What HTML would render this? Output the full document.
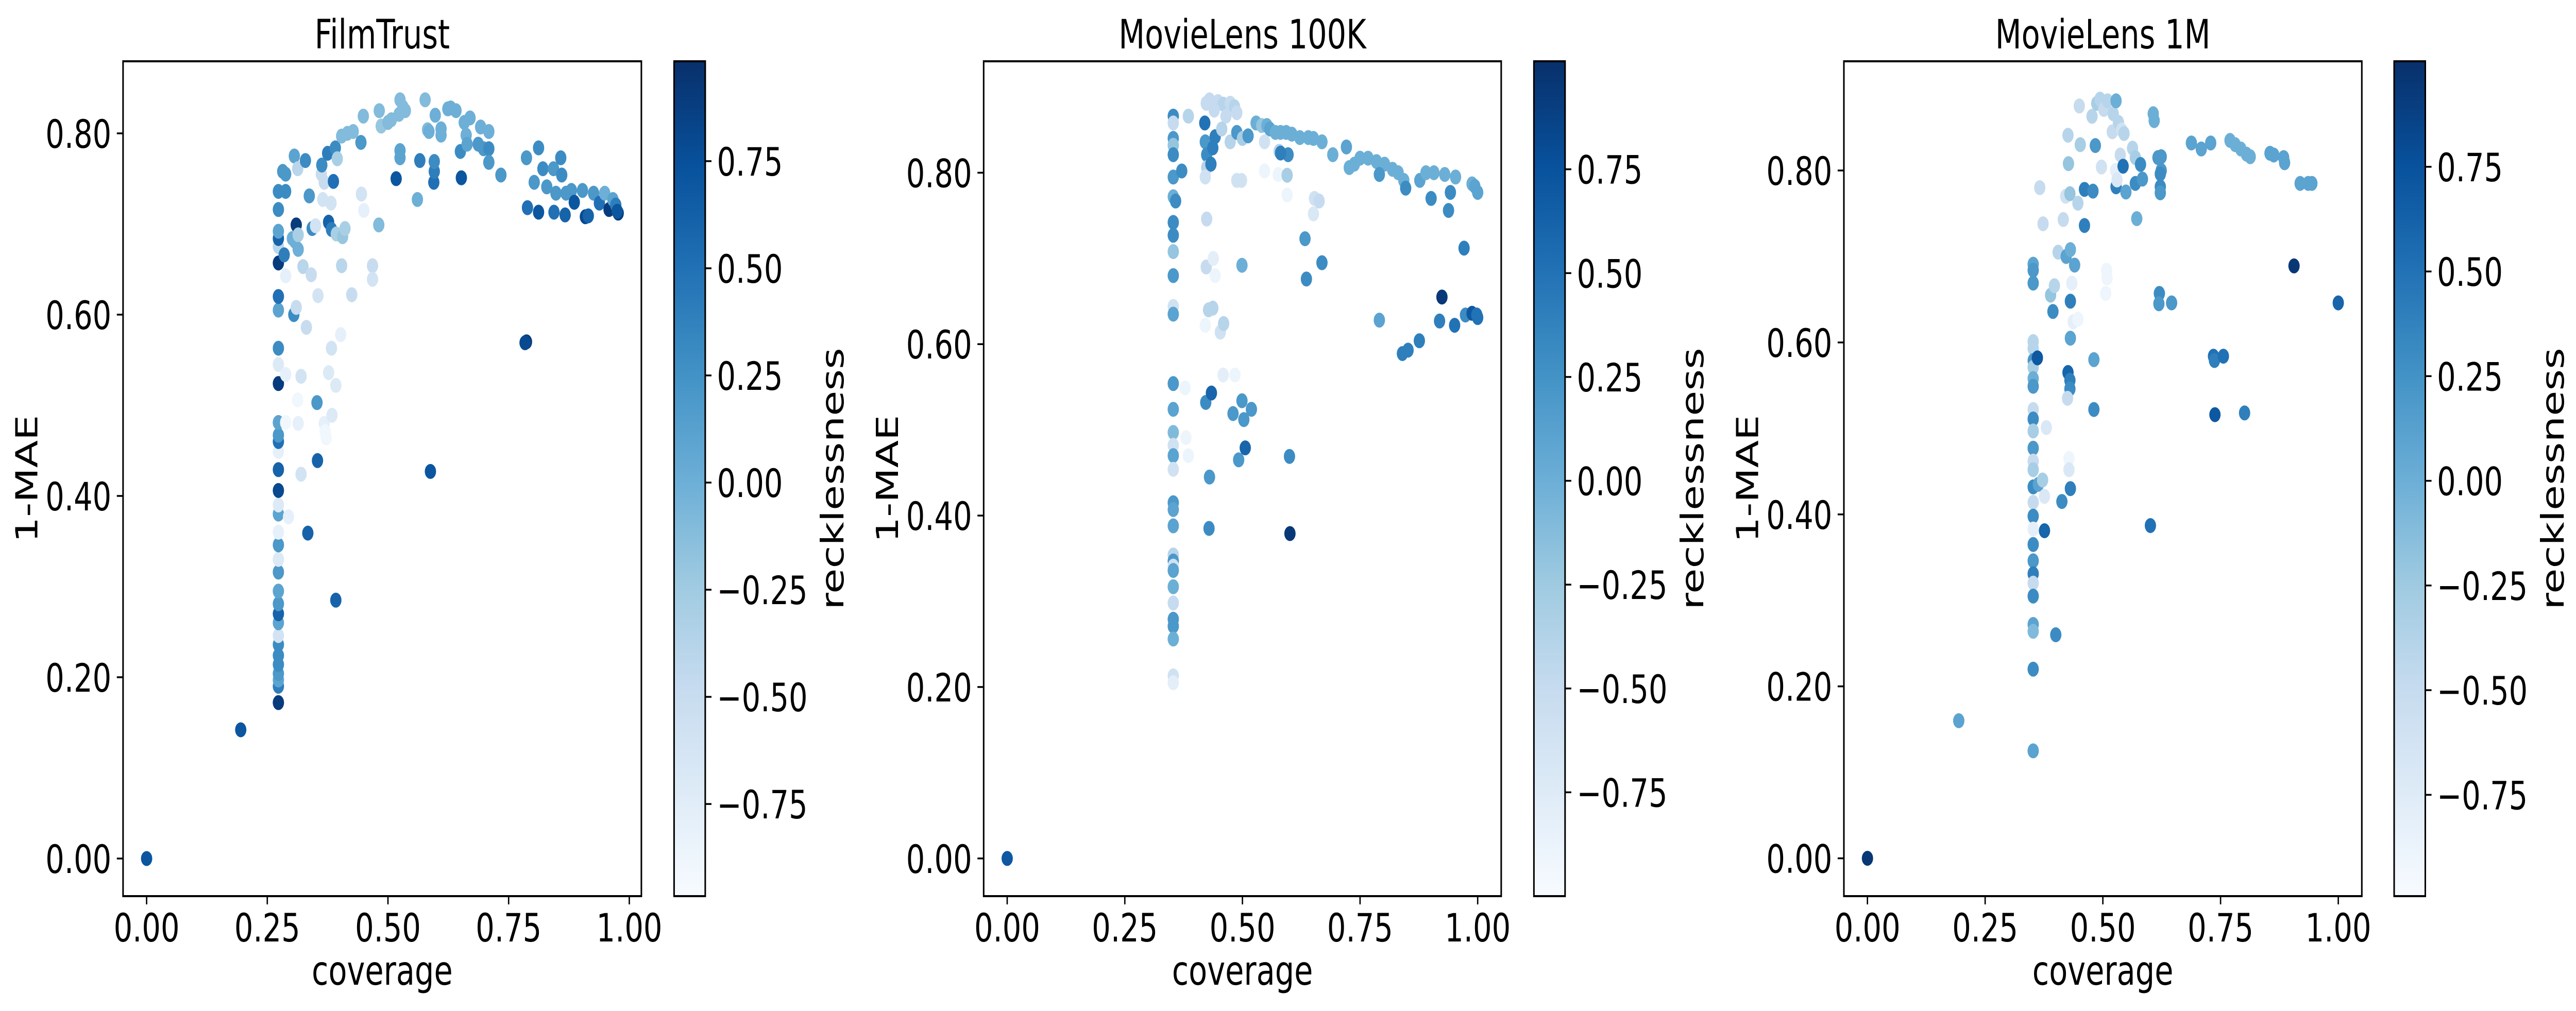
<!DOCTYPE html>
<html><head><meta charset="utf-8"><title>Recklessness scatter</title>
<style>
html,body{margin:0;padding:0;background:#fff;overflow:hidden;width:100%;height:100%;}
svg{display:block;width:100vw;height:100vh;font-family:"DejaVu Sans","Liberation Sans",sans-serif;}
</style></head>
<body>
<svg id="fig" viewBox="0 0 6615 1963" preserveAspectRatio="none" xmlns="http://www.w3.org/2000/svg">
<defs>
<linearGradient id="blues" x1="0" y1="1" x2="0" y2="0">
<stop offset="0" stop-color="#f7fbff"/><stop offset="0.125" stop-color="#deebf7"/><stop offset="0.25" stop-color="#c6dbef"/><stop offset="0.375" stop-color="#9ecae1"/><stop offset="0.5" stop-color="#6baed6"/><stop offset="0.625" stop-color="#4292c6"/><stop offset="0.75" stop-color="#2171b5"/><stop offset="0.875" stop-color="#08519c"/><stop offset="1" stop-color="#08306b"/>
</linearGradient>
</defs>
</svg>
<script>
// ---- data: FilmTrust ----
const ftCoverage=[0,0.195,0.273,0.273,0.273,0.273,0.273,0.273,0.273,0.273,0.273,0.273,0.273,0.273,0.273,0.273,0.273,0.273,0.273,0.273,0.273,0.273,0.273,0.273,0.273,0.273,0.273,0.273,0.273,0.273,0.273,0.273,0.273,0.273,0.273,0.273,0.273,0.288,0.288,0.288,0.294,0.285,0.302,0.307,0.31,0.314,0.314,0.282,0.288,0.306,0.313,0.329,0.288,0.305,0.31,0.324,0.331,0.32,0.313,0.314,0.32,0.334,0.337,0.341,0.343,0.35,0.353,0.355,0.354,0.362,0.363,0.365,0.368,0.368,0.37,0.372,0.375,0.377,0.377,0.382,0.383,0.383,0.384,0.387,0.391,0.392,0.393,0.392,0.395,0.404,0.402,0.404,0.406,0.411,0.416,0.425,0.428,0.444,0.445,0.45,0.449,0.468,0.468,0.481,0.482,0.486,0.5,0.507,0.517,0.523,0.525,0.525,0.525,0.531,0.536,0.561,0.566,0.577,0.582,0.585,0.588,0.595,0.596,0.596,0.598,0.61,0.61,0.624,0.63,0.641,0.65,0.652,0.658,0.662,0.664,0.67,0.687,0.692,0.698,0.709,0.709,0.709,0.734,0.787,0.784,0.787,0.789,0.803,0.812,0.812,0.821,0.829,0.843,0.844,0.848,0.858,0.86,0.867,0.869,0.88,0.886,0.903,0.909,0.915,0.926,0.938,0.949,0.958,0.966,0.972,0.977,0.975];
const ftMae=[0,0.142,0.172,0.19,0.197,0.204,0.214,0.224,0.236,0.246,0.26,0.27,0.281,0.295,0.316,0.33,0.346,0.36,0.38,0.39,0.406,0.429,0.449,0.46,0.467,0.481,0.524,0.545,0.563,0.605,0.62,0.657,0.675,0.684,0.692,0.716,0.736,0.481,0.534,0.643,0.377,0.666,0.684,0.681,0.699,0.688,0.672,0.758,0.755,0.775,0.761,0.77,0.736,0.6,0.608,0.653,0.586,0.532,0.506,0.48,0.424,0.359,0.731,0.644,0.695,0.698,0.503,0.621,0.439,0.755,0.765,0.727,0.746,0.48,0.471,0.464,0.778,0.702,0.536,0.723,0.694,0.563,0.489,0.747,0.784,0.522,0.689,0.285,0.772,0.797,0.578,0.654,0.686,0.695,0.8,0.622,0.802,0.79,0.733,0.715,0.819,0.654,0.639,0.699,0.825,0.808,0.812,0.815,0.75,0.821,0.781,0.773,0.837,0.829,0.825,0.727,0.77,0.837,0.804,0.802,0.427,0.746,0.758,0.769,0.82,0.798,0.805,0.827,0.828,0.825,0.78,0.751,0.812,0.798,0.788,0.817,0.788,0.807,0.783,0.802,0.783,0.768,0.754,0.57,0.569,0.773,0.718,0.746,0.713,0.784,0.761,0.741,0.761,0.713,0.734,0.773,0.754,0.71,0.734,0.737,0.724,0.737,0.708,0.709,0.734,0.723,0.734,0.716,0.727,0.721,0.712,0.714];
const ftReck=[0.7,0.7,0.9,0.4,0.1,0.2,0.3,0.3,0.3,-0.6,0.1,0.6,0.2,0.1,0.2,-0.7,0.2,-0.8,0.1,-0.7,0.8,0.6,-0.8,0.5,0.2,0.1,0.9,-0.7,0.3,0.1,0.5,0.9,-0.4,0.6,0.1,0.3,0.3,-0.9,-0.8,-0.8,-0.8,0.4,0,0,0.9,-0.3,0,0.2,0.2,0.1,-0.4,0.3,0.3,0.3,-0.5,-0.4,-0.5,-0.6,-0.9,-0.8,-0.6,0.6,0.2,-0.5,0.3,-0.6,0.2,-0.6,0.6,-0.5,0.3,-0.6,-0.5,-0.8,-0.9,-0.9,0.4,0.6,-0.7,-0.6,0.4,-0.6,-0.7,0.5,0.3,-0.7,-0.3,0.6,-0.3,-0.1,-0.8,-0.4,-0.2,-0.3,-0.1,-0.5,-0.1,0.2,-0.6,-0.8,-0.1,-0.5,-0.6,-0.1,-0.1,-0.2,-0.1,-0.1,0.7,-0.1,0.1,0.1,-0.1,-0.1,-0.1,0,0.4,-0.1,-0.1,0,0.7,0.5,0.4,0.3,0,0,0,0,0,0,0.3,0.7,0,0,0.1,0,0.2,0,0.2,0,0.3,0.2,0.2,0.9,0.8,0.2,0.5,0.2,0.7,0.3,0.3,0.2,0.2,0.5,0.2,0.3,0.3,0.6,0.2,0.2,0.7,0.2,0.8,0.6,0.2,0.5,0,0.9,0.1,0.4,0.9,0.7];
// ---- data: MovieLens 100K ----
const ml100Coverage=[0,0.353,0.353,0.353,0.353,0.353,0.353,0.353,0.353,0.353,0.353,0.353,0.353,0.353,0.353,0.353,0.353,0.353,0.353,0.353,0.353,0.353,0.353,0.353,0.353,0.353,0.353,0.353,0.353,0.353,0.353,0.353,0.353,0.353,0.358,0.371,0.385,0.378,0.38,0.385,0.42,0.423,0.421,0.424,0.424,0.421,0.433,0.437,0.442,0.424,0.423,0.438,0.442,0.421,0.428,0.437,0.422,0.434,0.43,0.429,0.453,0.46,0.459,0.484,0.48,0.492,0.499,0.503,0.506,0.519,0.499,0.488,0.498,0.6,0.601,0.43,0.448,0.459,0.474,0.483,0.488,0.465,0.44,0.456,0.474,0.488,0.5,0.512,0.529,0.541,0.552,0.558,0.57,0.581,0.593,0.605,0.622,0.64,0.651,0.669,0.692,0.721,0.727,0.738,0.75,0.767,0.785,0.802,0.819,0.831,0.843,0.847,0.791,0.877,0.89,0.907,0.93,0.953,0.901,0.938,0.942,0.988,0.994,1.0,0.547,0.576,0.595,0.578,0.547,0.597,0.581,0.595,0.633,0.636,0.669,0.653,0.663,0.651,0.791,0.84,0.852,0.876,0.919,0.924,0.951,0.971,0.974,0.988,0.998,1.0];
const ml100Mae=[0,0.866,0.858,0.84,0.832,0.821,0.795,0.772,0.742,0.727,0.708,0.68,0.644,0.635,0.554,0.524,0.497,0.482,0.47,0.454,0.415,0.407,0.388,0.354,0.347,0.341,0.336,0.317,0.298,0.279,0.271,0.256,0.213,0.205,0.767,0.802,0.866,0.549,0.491,0.47,0.858,0.881,0.836,0.821,0.806,0.795,0.81,0.829,0.842,0.746,0.69,0.7,0.68,0.622,0.64,0.642,0.532,0.543,0.445,0.385,0.614,0.624,0.564,0.564,0.519,0.465,0.534,0.512,0.479,0.524,0.692,0.791,0.791,0.469,0.379,0.885,0.883,0.88,0.881,0.877,0.87,0.866,0.873,0.851,0.836,0.847,0.84,0.843,0.858,0.855,0.855,0.851,0.847,0.847,0.847,0.845,0.841,0.841,0.84,0.836,0.821,0.83,0.806,0.81,0.817,0.817,0.813,0.81,0.804,0.8,0.791,0.782,0.798,0.791,0.8,0.8,0.798,0.795,0.77,0.756,0.777,0.787,0.784,0.777,0.802,0.798,0.774,0.825,0.836,0.821,0.823,0.797,0.723,0.676,0.695,0.77,0.767,0.752,0.628,0.589,0.593,0.604,0.627,0.655,0.622,0.712,0.634,0.636,0.634,0.631];
const ml100Reck=[0.7,0.3,-0.5,0.2,-0.2,0.3,0.2,0,0.3,0.3,-0.2,0.2,-0.6,0.1,0.2,0.1,-0.1,-0.6,0.1,-0.6,0.2,0.1,0.1,-0.4,0.2,-0.6,0.1,0,-0.5,0.2,0.2,0,-0.6,-0.8,0.3,0.3,-0.4,-0.9,-0.9,-0.9,0.5,-0.5,0.2,0.3,-0.4,-0.6,0.4,0.4,0.4,-0.5,-0.5,-0.8,-0.9,-0.9,-0.4,-0.4,0.3,0.6,0.2,0.3,-0.6,-0.4,-0.8,-0.9,0.2,0.2,0.2,0.2,0.6,0.2,0,-0.6,-0.6,0.3,0.95,-0.5,-0.5,-0.4,-0.5,-0.4,-0.5,-0.5,-0.5,-0.4,-0.4,0.2,-0.3,0.2,0,-0.2,0,0.1,0,0,0,0,0,0,0,0,0,0.1,0,0,0,0,0,0,0,0,0,0.3,0.2,0.1,0,0,0,0,0.3,0.3,0.3,0,0.1,0.1,-0.9,-0.9,-0.9,-0.4,-0.6,0.3,0.4,-0.3,0.2,0.3,0.3,-0.6,-0.5,-0.7,0.1,0.4,0.4,0.4,0.4,0.95,0.5,0.4,0.3,0.7,0.5,0.5];
// ---- data: MovieLens 1M ----
const ml1mCoverage=[0,0.194,0.352,0.352,0.352,0.352,0.352,0.352,0.352,0.352,0.352,0.352,0.352,0.352,0.352,0.352,0.352,0.352,0.352,0.352,0.352,0.352,0.352,0.352,0.352,0.352,0.352,0.352,0.352,0.352,0.361,0.363,0.366,0.372,0.373,0.376,0.376,0.38,0.394,0.389,0.397,0.4,0.405,0.413,0.416,0.422,0.421,0.426,0.427,0.43,0.431,0.431,0.431,0.426,0.43,0.43,0.425,0.428,0.428,0.431,0.434,0.437,0.44,0.447,0.447,0.45,0.452,0.461,0.461,0.477,0.479,0.484,0.481,0.481,0.487,0.494,0.497,0.502,0.51,0.508,0.509,0.506,0.52,0.522,0.528,0.528,0.527,0.53,0.533,0.54,0.545,0.537,0.543,0.549,0.563,0.569,0.569,0.572,0.58,0.584,0.607,0.609,0.601,0.617,0.62,0.619,0.624,0.624,0.622,0.622,0.622,0.646,0.688,0.709,0.729,0.735,0.737,0.756,0.738,0.801,0.77,0.781,0.793,0.805,0.813,0.855,0.863,0.884,0.886,0.919,0.936,0.944,0.906,1.0];
const ml1mMae=[0,0.16,0.691,0.684,0.669,0.601,0.593,0.579,0.571,0.558,0.549,0.522,0.511,0.497,0.477,0.462,0.452,0.432,0.414,0.398,0.383,0.365,0.346,0.331,0.32,0.305,0.272,0.264,0.22,0.125,0.582,0.435,0.78,0.44,0.738,0.421,0.381,0.501,0.636,0.655,0.666,0.26,0.705,0.415,0.743,0.7,0.77,0.841,0.808,0.773,0.708,0.648,0.605,0.565,0.556,0.546,0.535,0.465,0.452,0.43,0.669,0.624,0.69,0.762,0.627,0.875,0.83,0.778,0.736,0.863,0.776,0.829,0.58,0.522,0.878,0.883,0.804,0.871,0.881,0.684,0.675,0.657,0.845,0.866,0.881,0.781,0.8,0.789,0.856,0.847,0.843,0.818,0.805,0.775,0.826,0.815,0.785,0.744,0.807,0.79,0.866,0.858,0.387,0.815,0.657,0.645,0.816,0.8,0.796,0.781,0.774,0.646,0.832,0.825,0.832,0.584,0.579,0.584,0.516,0.518,0.835,0.83,0.825,0.819,0.816,0.82,0.818,0.815,0.809,0.785,0.785,0.785,0.689,0.646];
const ml1mReck=[0.95,0.1,0.1,0.2,0.2,-0.4,-0.4,0.2,-0.3,0,0.2,-0.5,0.3,-0.3,0.2,-0.5,-0.3,0.3,-0.5,0.3,-0.8,0.3,0.2,0.4,-0.5,0.3,0.1,-0.1,0.3,0.1,0.7,0.1,-0.5,-0.3,-0.5,-0.7,0.6,-0.7,0.3,-0.2,-0.4,0.3,-0.4,0.3,-0.5,0.1,-0.6,-0.4,-0.2,-0.2,0,0.4,0.1,0.6,0.4,0.3,-0.5,-0.9,-0.7,0.4,-0.8,-0.8,0.1,-0.4,-0.9,-0.5,-0.3,0.4,0.4,-0.4,0.3,0.2,0.1,0.3,-0.3,-0.4,-0.6,-0.5,-0.4,-0.9,-0.9,-0.9,-0.5,-0.4,0,0.4,-0.8,-0.7,-0.4,-0.6,-0.4,-0.5,0.5,0.1,-0.4,-0.3,0.3,0,0.3,0.2,0,0,0.5,0.2,0.3,0.2,0.2,0.2,0.3,0.3,0.2,0.2,0.1,0.1,0.1,0.5,0.4,0.5,0.7,0.4,0,0,0,0,0,0.1,0.1,0.1,0.1,0.1,0.1,0.1,0.95,0.6];
// ---- tick labels ----
const xTickValues=[0,0.25,0.5,0.75,1.0];
const xTickLabels=["0.00","0.25","0.50","0.75","1.00"];
const yTickValues=[0,0.2,0.4,0.6,0.8];
const yTickLabels=["0.00","0.20","0.40","0.60","0.80"];
const cbTickValues=[-0.75,-0.5,-0.25,0,0.25,0.5,0.75];
const cbTickLabels=["\u22120.75","\u22120.50","\u22120.25","0.00","0.25","0.50","0.75"];
const titles=["FilmTrust","MovieLens 100K","MovieLens 1M"];

const NS="http://www.w3.org/2000/svg";
const svg=document.getElementById('fig');
const blues=[[247,251,255],[222,235,247],[198,219,239],[158,202,225],[107,174,214],[66,146,198],[33,113,181],[8,81,156],[8,48,107]];
function cmap(t){t=Math.max(0,Math.min(1,t));const s=t*8;const i=Math.min(7,Math.floor(s));const f=s-i;const a=blues[i],b=blues[i+1];
return 'rgb('+[0,1,2].map(k=>Math.round(a[k]+(b[k]-a[k])*f)).join(',')+')';}
function mk(tag,attrs,parent){const e=document.createElementNS(NS,tag);for(const k in attrs)e.setAttribute(k,attrs[k]);(parent||svg).appendChild(e);return e;}

const panels=[
 {cov:ftCoverage,mae:ftMae,rk:ftReck,L:316,R:1647,cbx:1731,xl:[-0.0488,1.025],yl:[-0.0415,0.8795],cl:[-0.965,0.983],key:'filmtrust'},
 {cov:ml100Coverage,mae:ml100Mae,rk:ml100Reck,L:2526,R:3855,cbx:3939,xl:[-0.05,1.05],yl:[-0.044,0.930],cl:[-1.0,1.01],key:'movielens-100k'},
 {cov:ml1mCoverage,mae:ml1mMae,rk:ml1mReck,L:4735,R:6065,cbx:6148,xl:[-0.05,1.05],yl:[-0.044,0.927],cl:[-0.992,1.002],key:'movielens-1m'}
];
const T=119,B=1740,CBW=80,FS=76;

panels.forEach((p,pi)=>{
 const g=mk('g',{});
 
 
 const xs=v=>p.L+(v-p.xl[0])/(p.xl[1]-p.xl[0])*(p.R-p.L);
 const ys=v=>B-(v-p.yl[0])/(p.yl[1]-p.yl[0])*(B-T);
 const cs=v=>B-(v-p.cl[0])/(p.cl[1]-p.cl[0])*(B-T);
 const pg=mk('g',{},g);
 
 
 for(let i=0;i<p.cov.length;i++){
  const c=mk('circle',{cx:xs(p.cov[i]).toFixed(1),cy:ys(p.mae[i]).toFixed(1),r:14.5,fill:cmap((p.rk[i]-p.cl[0])/(p.cl[1]-p.cl[0]))},pg);
  
  
 }
 const fr=mk('rect',{x:p.L,y:T,width:p.R-p.L,height:B-T,fill:'none',stroke:'#000','stroke-width':4},g);
 
 
 xTickValues.forEach((v,i)=>{const x=xs(v);
  mk('line',{x1:x,y1:B,x2:x,y2:B+16,stroke:'#000','stroke-width':3.5},g);
  const t=mk('text',{x:x,y:1828,'font-size':FS,'text-anchor':'middle'},g);t.textContent=xTickLabels[i];
  
  });
 yTickValues.forEach((v,i)=>{const y=ys(v);
  mk('line',{x1:p.L-16,y1:y,x2:p.L,y2:y,stroke:'#000','stroke-width':3.5},g);
  const t=mk('text',{x:p.L-30,y:y+28,'font-size':FS,'text-anchor':'end'},g);t.textContent=yTickLabels[i];
  
  });
 const cx=(p.L+p.R)/2;
 const tt=mk('text',{x:cx,y:94,'font-size':78,'text-anchor':'middle'},g);tt.textContent=titles[pi];
 
 
 const xl=mk('text',{x:cx,y:1912,'font-size':78,'text-anchor':'middle'},g);xl.textContent='coverage';
 
 
 const yx=p.L-220,yy=(T+B)/2;
 const yl=mk('text',{x:yx,y:yy,'font-size':78,'text-anchor':'middle',transform:'rotate(-90 '+yx+' '+yy+')'},g);yl.textContent='1-MAE';
 
 
 const cb=mk('rect',{x:p.cbx,y:T,width:CBW,height:B-T,fill:'url(#blues)',stroke:'#000','stroke-width':4},g);
 
 
 cbTickValues.forEach((v,i)=>{const y=cs(v);const xr=p.cbx+CBW;
  mk('line',{x1:xr,y1:y,x2:xr+16,y2:y,stroke:'#000','stroke-width':3.5},g);
  const t=mk('text',{x:xr+30,y:y+28,'font-size':FS},g);t.textContent=cbTickLabels[i];
  
  });
 const rx=p.cbx+CBW+355,ry=(T+B)/2;
 const rl=mk('text',{x:rx,y:ry,'font-size':80,'text-anchor':'middle',transform:'rotate(-90 '+rx+' '+ry+')'},g);rl.textContent='recklessness';
 
 
});
</script>
</body></html>
